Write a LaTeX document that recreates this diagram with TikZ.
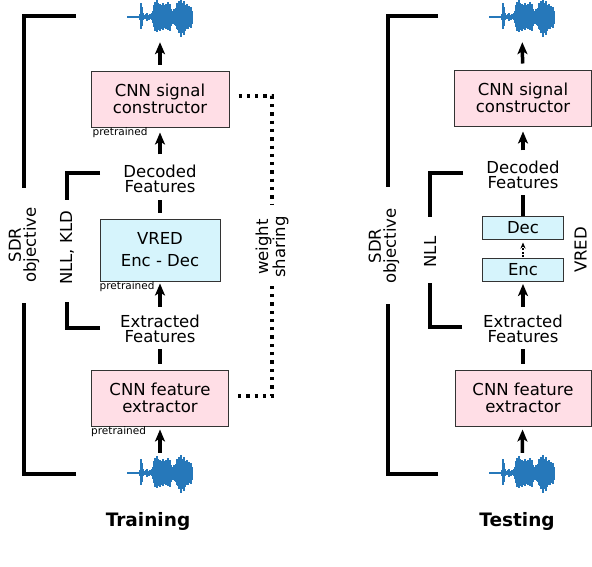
\documentclass[tikz,border=0pt]{standalone}
\usepackage{fontspec}
\setmainfont{DejaVu Sans}
\usetikzlibrary{arrows.meta,positioning}

\definecolor{sigpink}{RGB}{255,222,230}
\definecolor{vredblue}{RGB}{214,244,252}
\definecolor{wavecol}{RGB}{38,120,186}

\tikzset{
    wave/.pic={
        \node[minimum width=66pt, minimum height=36pt, inner sep=0pt] (-b) {};
        \draw[wavecol, line width=2pt] (-33,0) -- (-20,0);
        \foreach \x/\u/\d in {13/3/3, 14/14/12, 15/10/9, 16/4/3, 17/2/2, 18/2/2, 19/3/2,
                20/4/4, 21/2/2, 22/2/3, 23/3/2, 24/2/2, 25/4/3, 26/6/6, 27/12/10,
                28/15/14, 29/13/12, 30/17/15, 31/14/13, 32/11/12, 33/13/14, 34/12/11,
                35/10/12, 36/14/13, 37/12/11, 38/11/10, 39/13/12, 40/9/10, 41/15/13,
                42/11/12, 43/13/14, 44/8/9, 45/6/7, 46/5/6, 47/8/7, 48/6/8, 49/9/9,
                50/14/12, 51/12/13, 52/16/16, 53/13/12, 54/18/20, 55/14/16, 56/10/12,
                57/16/18, 58/12/14, 59/9/10, 60/13/12, 61/10/12, 62/11/10, 63/8/9,
                64/10/11, 65/6/7}
            \draw[wavecol, line width=1.2pt] (\x-33,-\u) -- (\x-33,\d);
    }
}

\begin{document}
\begin{tikzpicture}[%
        x=1pt, y=-1pt,
        on grid,
        txt/.style={font=\fontsize{16.5}{15}\selectfont, align=center, inner sep=0pt},
        cnnbox/.style={draw=black!80, line width=1pt, fill=sigpink, minimum width=137pt,
                       minimum height=56pt, align=center, font=\fontsize{16.5}{17}\selectfont},
        vredbox/.style={draw=black!80, line width=1pt, fill=vredblue, align=center,
                        font=\fontsize{16.5}{17}\selectfont},
        pre/.style={font=\fontsize{10.5}{12}\selectfont, inner sep=0pt, anchor=north west},
        fat/.style={line width=3.5pt, -{Stealth[length=12pt,width=10pt,inset=3pt]}},
        fatbar/.style={line width=3.5pt},
        brk/.style={line width=4pt},
        wshare/.style={line width=3.3pt, dash pattern=on 3.3pt off 5pt},
        dasharr/.style={line width=1.2pt, dash pattern=on 2pt off 1.5pt,
                        -{Stealth[length=6pt,width=5pt]}},
        title/.style={font=\fontsize{18.5}{20}\selectfont\bfseries, inner sep=0pt}
        ]
        \useasboundingbox (0,0) rectangle (592,566);

        % training
        \pic (wbL) at (160,473) {wave};
        \node[cnnbox] (fextL) at (160,398) {CNN feature\\extractor};
        \node[txt] (extfL) [above=69pt of fextL] {Extracted\\Features};
        \node[vredbox, minimum width=120pt, minimum height=62pt] (vredL) [above=79pt of extfL] {VRED\\[5pt]Enc - Dec};
        \node[txt] (decfL) [above=71.5pt of vredL] {Decoded\\Features};
        \node[cnnbox, minimum width=138pt] (sigL) [above=79.5pt of decfL] {CNN signal\\constructor};
        \pic (wtL) at (160,17) {wave};

        \node[pre] (preS) at ([xshift=2pt]sigL.south west) {pretrained};
        \node[pre] (preV) at (vredL.south west) {pretrained};
        \node[pre] (preF) at (fextL.south west) {pretrained};

        \node[txt, rotate=90] (sdrL) at (24,245) {SDR\\objective};
        \node[txt, rotate=90] (nllL) at (67,248) {NLL, KLD};
        \node[txt, rotate=90] (wsL) at (272,247) {weight\\sharing};
        \node[title] (trainL) at (148,521) {Training};

        \draw[fat, shorten <=2pt, shorten >=3pt] (wbL-b) -- (fextL);
        \draw[fatbar, shorten <=6pt, shorten >=6pt] (fextL) -- (extfL);
        \draw[fat, shorten <=8pt, shorten >=2pt] (extfL) -- (vredL);
        \draw[fatbar, shorten <=6pt, shorten >=7pt] (vredL) -- (decfL);
        \draw[fat, shorten <=10pt, shorten >=5pt] (decfL) -- (sigL);
        \draw[fat, shorten <=6pt, shorten >=7pt] (sigL) -- (wtL-b);

        \draw[brk] (76,16) -| ([yshift=19pt]sdrL.east);
        \draw[brk] (76,474) -| ([yshift=-20pt]sdrL.west);
        \draw[brk] (100,173) -| ([yshift=11pt]nllL.east);
        \draw[brk] (100,328) -| ([yshift=-17pt]nllL.west);
        \draw[wshare] ([xshift=9pt,yshift=3pt]sigL.east) -| ([yshift=11pt]wsL.east);
        \draw[wshare] ([xshift=9pt,yshift=2pt]fextL.east) -| ([yshift=-8pt]wsL.west);

        % testing
        \pic (wbR) at (522,473) {wave};
        \node[cnnbox, minimum width=136pt] (fextR) at (523,398) {CNN feature\\extractor};
        \node[txt] (extfR) [above=69pt of fextR] {Extracted\\Features};
        \node[vredbox, minimum width=81pt, minimum height=23pt] (encR) [above=59pt of extfR] {Enc};
        \node[vredbox, minimum width=81pt, minimum height=23pt] (decR) [above=42.5pt of encR] {Dec};
        \node[txt] (decfR) [above=53pt of decR] {Decoded\\Features};
        \node[cnnbox] (sigR) [above=76.5pt of decfR] {CNN signal\\constructor};
        \pic (wtR) at (522,17) {wave};

        \node[txt, rotate=90] (sdrR) at (384,246) {SDR\\objective};
        \node[txt, rotate=90] (nllR) at (430,252) {NLL};
        \node[txt, rotate=90] (vredR) at (580.5,250) {VRED};
        \node[title] (testR) at (517,521) {Testing};

        \draw[fat, shorten <=2pt, shorten >=3pt] (wbR-b) -- (fextR);
        \draw[fatbar, shorten <=6pt, shorten >=6pt] (fextR) -- (extfR);
        \draw[fat, shorten <=8pt, shorten >=2pt] (extfR) -- (encR);
        \draw[dasharr, shorten <=1pt, shorten >=3pt] (encR) -- (decR);
        \draw[fatbar, shorten >=6pt] (decR) -- (decfR);
        \draw[fat, shorten <=10pt, shorten >=5pt] (decfR) -- (sigR);
        \draw[fat, shorten <=6pt, shorten >=7pt] (sigR) -- (wtR-b);

        \draw[brk] (438,16) -| (388,187);
        \draw[brk] (438,474) -| (388,304);
        \draw[brk] (463,173) -| ([yshift=19pt]nllR.east);
        \draw[brk] (462,327) -| ([yshift=-15pt]nllR.west);

\end{tikzpicture}
\end{document}
